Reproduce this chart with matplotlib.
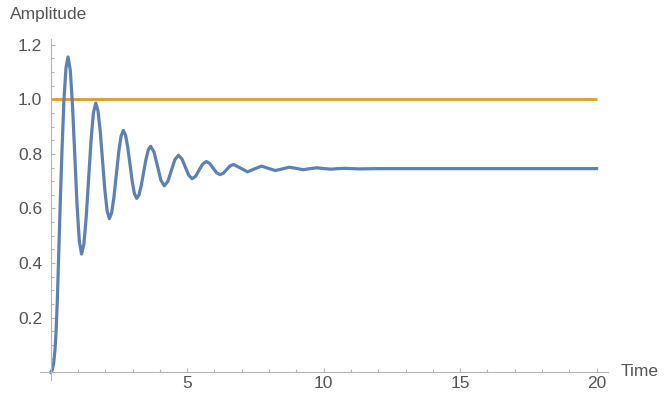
import matplotlib.pyplot as plt
from matplotlib.ticker import MultipleLocator, FixedLocator

# step response (time, amplitude)
time = [0.0, 0.05, 0.109, 0.157, 0.194, 0.243, 0.28, 0.316, 0.353, 0.42, 0.487, 0.56,
        0.635, 0.718, 0.80, 0.883, 0.965, 1.048,
        1.13, 1.217, 1.303, 1.39, 1.477, 1.563,
        1.65, 1.733, 1.817, 1.90, 1.983, 2.067,
        2.15, 2.235, 2.32, 2.405, 2.49, 2.575,
        2.66, 2.742, 2.823, 2.905, 2.987, 3.068,
        3.15, 3.235, 3.32, 3.405, 3.49, 3.575,
        3.66, 3.785, 3.91, 4.035,
        4.16, 4.29, 4.42, 4.55,
        4.68, 4.805, 4.93, 5.055,
        5.18, 5.31, 5.44, 5.57,
        5.70, 5.825, 5.95, 6.075,
        6.20, 6.325, 6.45, 6.575,
        6.70, 6.955, 7.21, 7.465, 7.72, 7.975, 8.23, 8.485, 8.74, 8.995,
        9.25, 9.505, 9.76, 10.015, 10.27, 10.525, 10.78, 11.29, 12.0, 20.0]
amplitude = [0.0, 0.006, 0.033, 0.082, 0.142, 0.264, 0.386, 0.508, 0.63, 0.83, 1.0, 1.115,
             1.155, 1.107, 0.975, 0.794, 0.614, 0.481,
             0.433, 0.470, 0.571, 0.710, 0.848, 0.949,
             0.986, 0.958, 0.880, 0.775, 0.669, 0.591,
             0.563, 0.585, 0.644, 0.725, 0.805, 0.864,
             0.886, 0.869, 0.824, 0.762, 0.699, 0.654,
             0.637, 0.650, 0.685, 0.733, 0.780, 0.815,
             0.828, 0.807, 0.756, 0.704,
             0.683, 0.699, 0.739, 0.779,
             0.795, 0.782, 0.752, 0.722,
             0.709, 0.718, 0.741, 0.763,
             0.772, 0.765, 0.748, 0.731,
             0.724, 0.729, 0.743, 0.756,
             0.761, 0.748, 0.734, 0.745, 0.755, 0.747, 0.739, 0.745, 0.751, 0.747,
             0.742, 0.746, 0.749, 0.746, 0.744, 0.746, 0.747, 0.745, 0.746, 0.746]
ref_time = [0, 20]
ref_level = [1.0, 1.0]

x_ticks = [5, 10, 15, 20]
y_ticks = [0.2, 0.4, 0.6, 0.8, 1.0, 1.2]

plt.rcParams['font.family'] = ['Liberation Sans', 'DejaVu Sans']

fig = plt.figure(figsize=(6.64, 3.98), dpi=100)
ax = fig.add_axes([0.0599, 0.044, 0.8551, 0.8575])

ax.plot(ref_time, ref_level, color="#E19C24", lw=2.0, solid_capstyle="butt")
ax.plot(time, amplitude, color="#5E81B5", lw=2.3, solid_joinstyle="round")

ax.set_xlim(-0.4, 20.4)
ax.set_ylim(-0.03, 1.22)

# mathematica style axes through the origin
for side in ["top", "right"]:
    ax.spines[side].set_visible(False)
ax.spines["left"].set_position(("data", 0))
ax.spines["bottom"].set_position(("data", 0))
for side in ["left", "bottom"]:
    ax.spines[side].set_color("#b5b5b5")
    ax.spines[side].set_linewidth(0.8)

ax.xaxis.set_major_locator(FixedLocator(x_ticks))
ax.xaxis.set_minor_locator(MultipleLocator(1))
ax.yaxis.set_major_locator(FixedLocator(y_ticks))
ax.yaxis.set_minor_locator(MultipleLocator(0.05))
ax.set_yticklabels([f"{v:.1f}" for v in y_ticks])

ax.tick_params(which="both", direction="in", color="#b5b5b5", width=0.8,
               labelcolor="#555555", labelsize=12.5)
ax.tick_params(which="major", length=3.2)
ax.tick_params(which="minor", length=2.0)
ax.tick_params(axis="y", pad=6)
ax.tick_params(axis="x", pad=3)

fig.text(10 / 664, 1 - 15 / 398, "Amplitude", ha="left", va="center",
         fontsize=12.5, color="#555555")
fig.text(621 / 664, 1 - 371 / 398, "Time", ha="left", va="center",
         fontsize=12.5, color="#555555")

fig.savefig("out.png", dpi=100)
